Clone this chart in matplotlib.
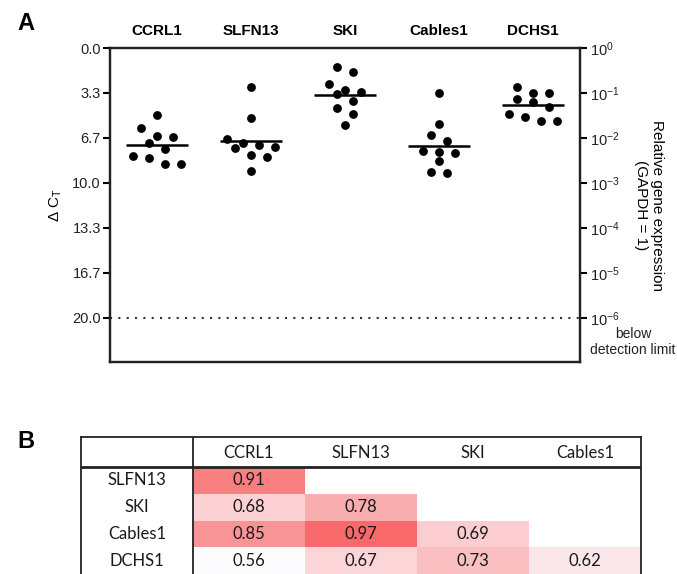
import numpy as np
import matplotlib
matplotlib.use('agg')
import matplotlib.pyplot as plt
from matplotlib.colors import LinearSegmentedColormap, Normalize
from matplotlib.transforms import blended_transform_factory

plt.rcParams['font.family'] = ['Liberation Sans', 'DejaVu Sans']
plt.rcParams['mathtext.fontset'] = 'custom'
plt.rcParams['mathtext.rm'] = 'Liberation Sans'
plt.rcParams['mathtext.it'] = 'Liberation Sans:italic'

# panel A: delta CT per gene (10 samples each)
genes = ['CCRL1', 'SLFN13', 'SKI', 'Cables1', 'DCHS1']
ct_ccrl1 = [4.96, 5.95, 6.49, 6.62, 7.01, 7.46, 7.97, 8.17, 8.59, 8.62]
ct_slfn13 = [2.86, 5.19, 6.72, 7.01, 7.21, 7.33, 7.43, 7.93, 8.10, 9.11]
ct_ski = [1.38, 1.78, 2.64, 3.11, 3.41, 3.26, 3.93, 4.44, 4.86, 5.70]
ct_cables1 = [3.36, 5.60, 6.42, 6.89, 7.73, 7.78, 7.65, 8.37, 9.16, 9.28]
ct_dchs1 = [2.91, 3.31, 3.31, 3.80, 3.98, 4.35, 4.89, 5.09, 5.38, 5.38]
detection_limit = 20.0
ct_ticks = [0, 10/3, 20/3, 10, 40/3, 50/3, 20]
rel_labels = ['$10^{0}$', '$10^{-1}$', '$10^{-2}$', '$10^{-3}$',
              '$10^{-4}$', '$10^{-5}$', '$10^{-6}$']

# panel B: correlation table (lower triangle)
row_names = ['SLFN13', 'SKI', 'Cables1', 'DCHS1']
col_names = ['CCRL1', 'SLFN13', 'SKI', 'Cables1']
corr = [
    [0.91, None, None, None],
    [0.68, 0.78, None, None],
    [0.85, 0.97, 0.69, None],
    [0.56, 0.67, 0.73, 0.62],
]


def swarm(vals, row_h=0.7, step=0.085):
    # GraphPad-like spreading: group close values in rows, centre each row
    vals = np.asarray(vals)
    order = np.argsort(vals, kind='stable')
    offs = np.zeros(len(vals))
    i = 0
    while i < len(order):
        row = [order[i]]
        j = i + 1
        while j < len(order) and vals[order[j]] - vals[order[i]] < row_h:
            row.append(order[j])
            j += 1
        n = len(row)
        for k, idx in enumerate(row):
            offs[idx] = (2 * k - (n - 1)) * step
        i = j
    return offs


W, H = 677, 574
fig = plt.figure(figsize=(W / 100, H / 100), dpi=100)

ax = fig.add_axes([110 / W, 1 - 362 / H, 470 / W, 314 / H])
series = [ct_ccrl1, ct_slfn13, ct_ski, ct_cables1, ct_dchs1]
for i, vals in enumerate(series):
    xs = i + swarm(vals)
    ax.scatter(xs, vals, s=40, color='black', zorder=3, linewidths=0)
    m = np.mean(vals)
    ax.hlines(m, i - 0.33, i + 0.33, color='black', lw=1.8, zorder=2)

ax.axhline(detection_limit, color='#333333', lw=1.5, ls=(0, (1, 3)))
ax.set_xlim(-0.5, 4.5)
ax.set_ylim(23.26, 0)
ax.set_yticks(ct_ticks)
ax.set_yticklabels([f'{v:.1f}' for v in ct_ticks], fontsize=10.5, color='#222222')
ax.set_xticks(range(len(genes)))
ax.set_xticklabels(genes, fontsize=11, fontweight='bold')
ax.xaxis.tick_top()
ax.tick_params(axis='x', length=0, pad=7)
ax.tick_params(axis='y', length=5, width=1.5, pad=1.5)
for sp in ax.spines.values():
    sp.set_linewidth(1.6)
    sp.set_color('#222222')
ax.set_ylabel('Δ C$_\\mathrm{T}$', fontsize=11)
ax.yaxis.set_label_coords(-0.098, 0.5)

ax2 = ax.twinx()
ax2.set_ylim(23.26, 0)
ax2.set_yticks(ct_ticks)
ax2.set_yticklabels(rel_labels, fontsize=10.5, color='#222222')
ax2.tick_params(axis='y', length=5, width=1.5, pad=2)
for sp in ax2.spines.values():
    sp.set_linewidth(1.6)
    sp.set_color('#222222')
ax2.set_ylabel('Relative gene expression\n(GAPDH = 1)', rotation=270,
               va='bottom', ha='center', fontsize=11, linespacing=1.15)
ax2.yaxis.set_label_coords(1.115, 0.5)
tr = blended_transform_factory(ax.transAxes, ax.transData)
ax.text(1.113, 21.8, 'below\ndetection limit', transform=tr, ha='center',
        va='center', fontsize=10, linespacing=1.2, color='#222222')

fig.text(17 / W, 1 - 23 / H, 'A', fontsize=17, fontweight='bold', va='center')
fig.text(17 / W, 1 - 441 / H, 'B', fontsize=17, fontweight='bold', va='center')

# panel B table
hdr = 30.0
row_h = (137 - hdr) / len(row_names)
tax = fig.add_axes([81 / W, 0, 560 / W, 137 / H])
tax.set_xlim(0, 5)
tax.set_ylim(137, 0)
cmap = LinearSegmentedColormap.from_list('wr', ['#FCFCFF', '#F8696B'])
vals = np.array([[np.nan if v is None else v for v in r] for r in corr])
x_edges = np.arange(1, len(col_names) + 2)
y_edges = hdr + row_h * np.arange(len(row_names) + 1)
tax.pcolormesh(x_edges, y_edges, np.ma.masked_invalid(vals), cmap=cmap,
               norm=Normalize(np.nanmin(vals), np.nanmax(vals)))
tfont = dict(family=['Lato', 'DejaVu Sans'], fontsize=12, color='#1a1a1a',
             ha='center', va='center')
for j, c in enumerate(col_names):
    tax.text(j + 1.5, hdr / 2 + 1, c, **tfont)
for i, r in enumerate(row_names):
    yc = hdr + row_h * (i + 0.5)
    tax.text(0.5, yc, r, **tfont)
    for j, v in enumerate(corr[i]):
        if v is not None:
            tax.text(j + 1.5, yc, f'{v:.2f}', **tfont)
tax.axhline(hdr, color='#222222', lw=2)
tax.axvline(1, color='#222222', lw=1.3)
tax.set_xticks([])
tax.set_yticks([])
for k, sp in tax.spines.items():
    sp.set_linewidth(1.3)
    sp.set_color('#222222')
tax.spines['bottom'].set_visible(False)

fig.savefig('out.png', dpi=100)
